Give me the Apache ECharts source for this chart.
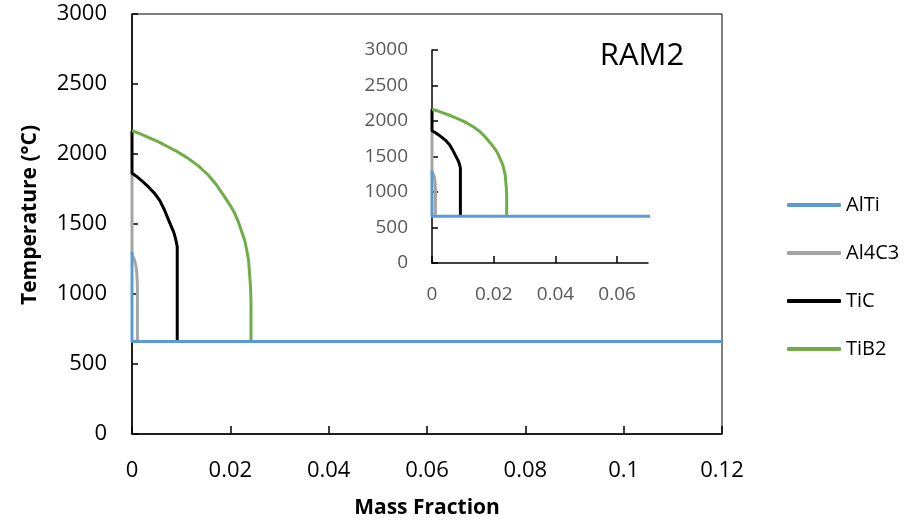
<!DOCTYPE html>
<html>
<head>
<meta charset="utf-8">
<script src="https://cdn.jsdelivr.net/npm/echarts@6/dist/echarts.min.js"></script>
<style>
  html, body { margin: 0; padding: 0; background: #fff; }
  #chart { width: 917px; height: 523px; }
</style>
</head>
<body>
<div id="chart"></div>
<script>
// Phase boundaries: [mass fraction, temperature in °C]
const alTi = [[0, 1300], [0, 660], [0.12, 660]];
const al4c3 = [[0, 1850], [0, 1290], [0.0002, 1268], [0.0005, 1243], [0.0008, 1200], [0.00095, 1160], [0.00105, 1100], [0.0011, 1040], [0.0011, 660]];
const tic = [[0, 2166], [0, 1862], [0.0011, 1835], [0.0022, 1802], [0.0034, 1763], [0.0046, 1719], [0.0057, 1665], [0.0066, 1600], [0.0073, 1540], [0.0080, 1481], [0.0085, 1440], [0.0089, 1390], [0.0092, 1338], [0.0092, 660]];
const tib2 = [[0, 2166], [0.0016, 2145], [0.0033, 2119], [0.0053, 2088], [0.0073, 2052], [0.0094, 2013], [0.0114, 1969], [0.0135, 1915], [0.0155, 1850], [0.0172, 1778], [0.0188, 1695], [0.0199, 1637], [0.0209, 1576], [0.0216, 1517], [0.0222, 1457], [0.0229, 1386], [0.0233, 1320], [0.0237, 1243], [0.0239, 1150], [0.0241, 1052], [0.0242, 950], [0.0242, 660]];

const seriesNames = ['AlTi', 'Al4C3', 'TiC', 'TiB2'];
const seriesColors = ['#5b9bd5', '#a5a5a5', '#000000', '#70ad47'];
const seriesData = [alTi, al4c3, tic, tib2];

// Axis ticks
const mainXTicks = { min: 0, max: 0.12, interval: 0.02 };
const mainYTicks = { min: 0, max: 3000, interval: 500 };
const insetXLabels = [0, 0.02, 0.04, 0.06];
const insetXMax = 0.07;

const chart = echarts.init(document.getElementById('chart'), null, { renderer: 'canvas' });
const FONT = '"Open Sans", "Noto Sans", sans-serif';
const plain = v => String(v);

function buildSeries(gridIdx) {
  // AlTi is drawn last so its solidus line sits on top of the others
  const order = [1, 2, 3, 0];
  return order.map(i => ({
    name: seriesNames[i],
    type: 'line',
    xAxisIndex: gridIdx,
    yAxisIndex: gridIdx,
    data: seriesData[i],
    showSymbol: false,
    symbol: 'none',
    smooth: false,
    z: 2 + (i === 0 ? 4 : i),
    lineStyle: { color: seriesColors[i], width: 3, join: 'round' },
    itemStyle: { color: seriesColors[i] }
  }));
}

const option = {
  backgroundColor: '#ffffff',
  animation: false,
  textStyle: { fontFamily: FONT },
  legend: {
    data: seriesNames,
    orient: 'vertical',
    left: 782,
    top: 188,
    itemWidth: 54,
    itemHeight: 4,
    itemGap: 24,
    icon: 'roundRect',
    textStyle: { fontFamily: FONT, fontSize: 20, color: '#000', lineHeight: 24 }
  },
  grid: [
    { left: 132, top: 14, width: 590, height: 420, show: true, borderColor: '#000', borderWidth: 1, backgroundColor: 'transparent' },
    { left: 432, top: 50, width: 216, height: 213 }
  ],
  xAxis: [
    {
      type: 'value', gridIndex: 0,
      min: mainXTicks.min, max: mainXTicks.max, interval: mainXTicks.interval,
      axisLine: { show: true, lineStyle: { color: '#000', width: 1.5 } },
      axisTick: { show: true, inside: true, length: 8, lineStyle: { color: '#000', width: 1.5 } },
      splitLine: { show: false },
      axisLabel: { fontFamily: FONT, fontSize: 22, color: '#000', margin: 26, formatter: plain }
    },
    {
      type: 'value', gridIndex: 1,
      min: 0, max: insetXMax,
      axisLine: { show: true, lineStyle: { color: '#000', width: 1.5 } },
      axisTick: { show: true, inside: true, length: 7, customValues: insetXLabels, lineStyle: { color: '#000', width: 1.5 } },
      splitLine: { show: false },
      axisLabel: { fontFamily: FONT, fontSize: 19, color: '#595959', margin: 22, customValues: insetXLabels, formatter: plain }
    }
  ],
  yAxis: [
    {
      type: 'value', gridIndex: 0,
      min: mainYTicks.min, max: mainYTicks.max, interval: mainYTicks.interval,
      axisLine: { show: true, lineStyle: { color: '#000', width: 1.5 } },
      axisTick: { show: true, inside: true, length: 6, lineStyle: { color: '#000', width: 1.5 } },
      splitLine: { show: false },
      axisLabel: { fontFamily: FONT, fontSize: 22, color: '#000', margin: 25, formatter: plain }
    },
    {
      type: 'value', gridIndex: 1,
      min: mainYTicks.min, max: mainYTicks.max, interval: mainYTicks.interval,
      axisLine: { show: true, lineStyle: { color: '#000', width: 1.5 } },
      axisTick: { show: true, inside: true, length: 6, lineStyle: { color: '#000', width: 1.5 } },
      splitLine: { show: false },
      axisLabel: { fontFamily: FONT, fontSize: 19, color: '#595959', margin: 24, formatter: plain }
    }
  ],
  graphic: [
    {
      // Rotated axis title placed by its centre point
      type: 'text', x: 30, y: 215, rotation: Math.PI / 2,
      style: { text: 'Temperature (°C)', fontFamily: FONT, fontSize: 21, fontWeight: 'bold', fill: '#000', align: 'center', verticalAlign: 'middle' }
    },
    {
      type: 'text', x: 427, y: 508,
      style: { text: 'Mass Fraction', fontFamily: FONT, fontSize: 21, fontWeight: 'bold', fill: '#000', align: 'center', verticalAlign: 'middle' }
    },
    {
      type: 'text', x: 642, y: 56,
      style: { text: 'RAM2', fontFamily: FONT, fontSize: 31, fill: '#000', align: 'center', verticalAlign: 'middle' }
    }
  ],
  series: buildSeries(0).concat(buildSeries(1))
};

chart.setOption(option);
</script>
</body>
</html>
